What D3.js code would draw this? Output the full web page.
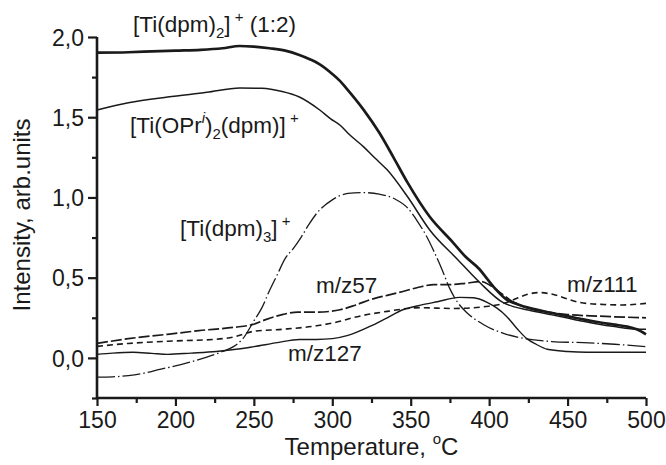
<!DOCTYPE html>
<html><head><meta charset="utf-8">
<script src="https://cdn.jsdelivr.net/npm/d3@7/dist/d3.min.js"></script>
<style>
html,body{margin:0;padding:0;background:#fff;}
svg text{font-family:"Liberation Sans",Arial,Helvetica,sans-serif;fill:#1a1a1a;}
</style></head>
<body><svg id="c" width="666" height="465"></svg>
<script>
// ---- data (temperature °C, intensity arb.units) ----
const xTicks = [150, 200, 250, 300, 350, 400, 450, 500];
const yTicks = [0.0, 0.5, 1.0, 1.5, 2.0];

const tiDpm2 = [[150,1.902],[170,1.905],[185,1.91],[200,1.915],[216,1.92],[230,1.93],[241,1.944],[250,1.94],[260,1.93],[270,1.915],[279,1.888],[286,1.86],[292,1.83],[300,1.77],[305,1.725],[309,1.68],[320,1.546],[330,1.403],[339,1.25],[348,1.092],[362,0.881],[377,0.719],[385,0.63],[394,0.551],[399,0.489],[404,0.43],[411,0.364],[418,0.335],[426,0.31],[440,0.28],[450,0.26],[460,0.24],[470,0.222],[480,0.207],[488,0.195],[494,0.178],[500,0.147]];
const tiOPr = [[150,1.545],[170,1.59],[195,1.626],[220,1.655],[241,1.682],[255,1.68],[268,1.66],[279,1.626],[292,1.545],[299,1.49],[305,1.45],[310,1.40],[320,1.315],[327,1.247],[335,1.172],[348,1.004],[362,0.799],[380,0.612],[394,0.47],[409,0.344],[416,0.318],[425,0.298],[440,0.268],[450,0.248],[460,0.228],[470,0.21],[480,0.195],[490,0.182],[500,0.178]];
const tiDpm3 = [[150,-0.12],[160,-0.118],[170,-0.11],[180,-0.095],[190,-0.072],[200,-0.05],[210,-0.025],[220,0.005],[230,0.04],[237,0.07],[243,0.12],[250,0.23],[255,0.31],[260,0.42],[265,0.52],[270,0.62],[275,0.68],[280,0.75],[285,0.83],[290,0.9],[300,0.985],[310,1.025],[320,1.03],[330,1.02],[340,0.99],[348,0.935],[355,0.84],[360,0.76],[365,0.66],[370,0.55],[375,0.43],[380,0.345],[386,0.28],[396,0.21],[411,0.147],[426,0.116],[440,0.102],[460,0.095],[480,0.085],[500,0.07]];
const mz57 = [[150,0.09],[170,0.12],[195,0.147],[215,0.17],[237,0.19],[250,0.21],[258,0.24],[268,0.27],[278,0.285],[290,0.285],[305,0.30],[315,0.33],[325,0.365],[335,0.39],[345,0.414],[355,0.44],[365,0.457],[375,0.457],[385,0.465],[395,0.476],[401,0.45],[408,0.40],[415,0.35],[425,0.31],[435,0.29],[450,0.27],[470,0.26],[500,0.25]];
const mz111 = [[150,0.072],[170,0.09],[195,0.104],[226,0.116],[237,0.13],[250,0.166],[268,0.178],[290,0.2],[305,0.228],[313,0.25],[335,0.29],[356,0.313],[377,0.308],[398,0.32],[407,0.333],[415,0.36],[424,0.395],[432,0.407],[441,0.395],[451,0.364],[458,0.345],[473,0.333],[485,0.33],[500,0.34]];
const mz127 = [[150,0.022],[160,0.03],[173,0.035],[185,0.028],[195,0.022],[210,0.03],[226,0.04],[240,0.055],[250,0.07],[265,0.095],[279,0.115],[290,0.115],[300,0.12],[310,0.14],[324,0.196],[335,0.25],[345,0.30],[357,0.33],[367,0.35],[381,0.377],[390,0.375],[399,0.345],[405,0.31],[411,0.26],[418,0.18],[424,0.12],[430,0.085],[437,0.054],[450,0.04],[462,0.035],[500,0.035]];

// ---- layout ----
const svg = d3.select("#c");
const L = 97, R = 646, T = 37, B = 398;
const x = d3.scaleLinear().domain([150, 500]).range([L, R]);
const y = d3.scaleLinear().domain([-0.25, 2.0]).range([B, T]);
const fmt = v => d3.format(".1f")(v).replace(".", ",");

// axes
const gx = svg.append("g").attr("transform", `translate(0,${B})`)
  .call(d3.axisBottom(x).tickValues(xTicks).tickSize(8).tickFormat(d3.format("d")));
const gxm = svg.append("g").attr("transform", `translate(0,${B})`)
  .call(d3.axisBottom(x).tickValues(d3.range(175, 500, 50)).tickSize(5).tickFormat(""));
const gy = svg.append("g").attr("transform", `translate(${L},0)`)
  .call(d3.axisLeft(y).tickValues(yTicks).tickSize(9).tickFormat(fmt));
const gym = svg.append("g").attr("transform", `translate(${L},0)`)
  .call(d3.axisLeft(y).tickValues([-0.25, 0.25, 0.75, 1.25, 1.75]).tickSize(5).tickFormat(""));
[gx, gxm, gy, gym].forEach(g => {
  g.selectAll(".domain").attr("stroke", "#1a1a1a").attr("stroke-width", 2.6);
  g.selectAll(".tick line").attr("stroke", "#1a1a1a").attr("stroke-width", 2.2);
});
gx.selectAll(".domain").attr("d", `M${L},0H${R}`);
gxm.selectAll(".domain").remove();
gy.selectAll(".domain").attr("d", `M0,${B}V${T}`);
gym.selectAll(".domain").remove();
gx.selectAll(".tick text").attr("font-size", 23).attr("dy", null).attr("y", 30).attr("fill", "#1a1a1a").attr("font-family", '"Liberation Sans",Arial,sans-serif');
gy.selectAll(".tick text").attr("font-size", 23).attr("x", -13).attr("dy", "0.36em").attr("fill", "#1a1a1a").attr("font-family", '"Liberation Sans",Arial,sans-serif');

// axis titles
const xt = svg.append("text").attr("x", (L + R) / 2).attr("y", 455).attr("text-anchor", "middle").attr("font-size", 24);
xt.append("tspan").text("Temperature, ");
xt.append("tspan").text("o").attr("font-size", 15).attr("dy", -11);
xt.append("tspan").text("C").attr("dy", 11);
svg.append("text").attr("transform", "translate(30,215) rotate(-90)").attr("text-anchor", "middle")
  .attr("font-size", 24).text("Intensity, arb.units");

// lines
const line = d3.line().x(d => x(d[0])).y(d => y(d[1])).curve(d3.curveMonotoneX);
const series = [
  {data: tiDpm3, w: 1.3, dash: "18,3,1.5,3"},
  {data: mz57, w: 1.7, dash: "11,3"},
  {data: mz111, w: 1.6, dash: "6,4"},
  {data: mz127, w: 1.4, dash: null},
  {data: tiOPr, w: 1.5, dash: null},
  {data: tiDpm2, w: 2.7, dash: null}
];
series.forEach(s => {
  svg.append("path").attr("d", line(s.data)).attr("fill", "none")
    .attr("stroke", "#1a1a1a").attr("stroke-width", s.w)
    .attr("stroke-dasharray", s.dash).attr("stroke-linejoin", "round");
});

// annotations
function label(xp, yp, parts) {
  const t = svg.append("text").attr("x", xp).attr("y", yp).attr("font-size", 22.5);
  let shift = 0;
  parts.forEach(p => {
    const sp = t.append("tspan").text(p.t);
    const target = p.sub ? 6 : (p.sup ? -10 : 0);
    sp.attr("dy", target - shift);
    shift = target;
    if (p.sub || p.sup) sp.attr("font-size", 15);
    if (p.it) sp.attr("font-style", "italic");
  });
}
label(133, 32, [{t:"[Ti(dpm)"},{t:"2",sub:1},{t:"]"},{t:" +",sup:1},{t:" (1:2)"}]);
label(130, 133, [{t:"[Ti(OPr"},{t:"i",sup:1,it:1},{t:")"},{t:"2",sub:1},{t:"(dpm)]"},{t:" +",sup:1}]);
label(180, 236, [{t:"[Ti(dpm)"},{t:"3",sub:1},{t:"]"},{t:" +",sup:1}]);
label(316, 293, [{t:"m/z57"}]);
label(567, 292, [{t:"m/z111"}]);
label(288, 361, [{t:"m/z127"}]);
</script></body></html>
